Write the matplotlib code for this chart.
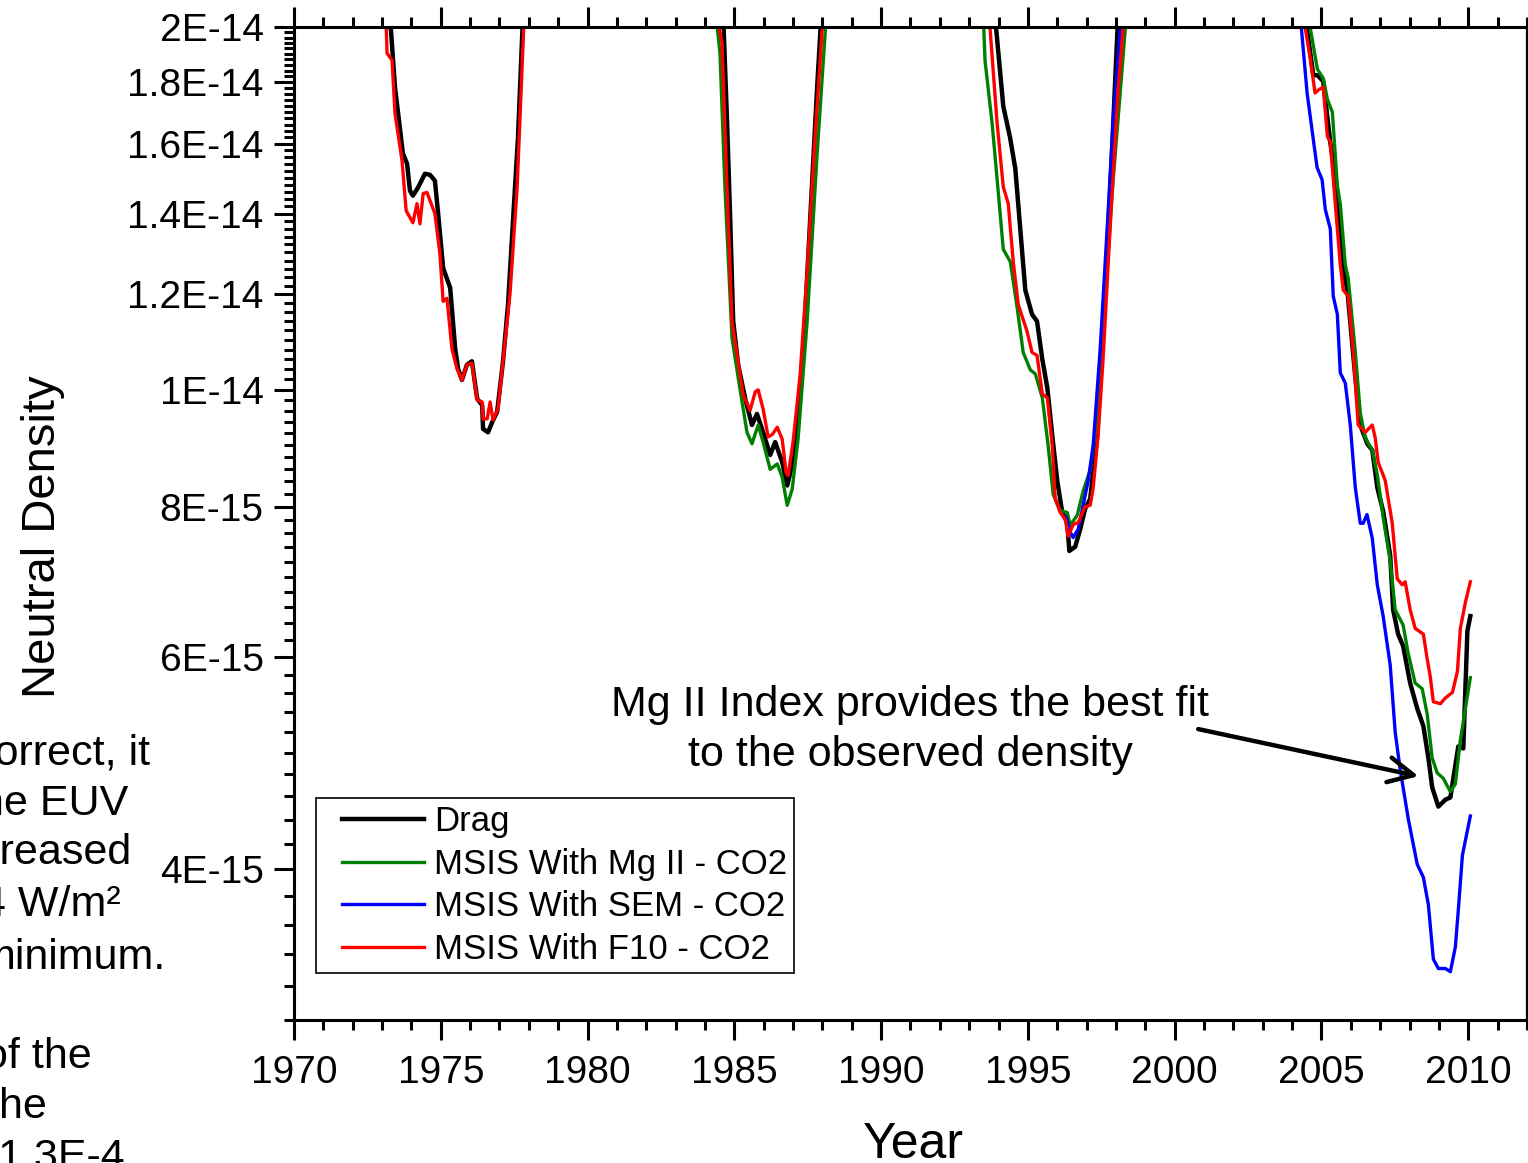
import numpy as np
import matplotlib
matplotlib.use("Agg")
import matplotlib.pyplot as plt
from matplotlib.lines import Line2D
from matplotlib.legend_handler import HandlerLine2D
from matplotlib.ticker import FixedLocator, MultipleLocator, NullFormatter

nan = np.nan

# neutral density in units of 1E-15, NaN splits the four solar minima
drag_year = [1973.27, 1973.44, 1973.71, 1973.85, 1973.95, 1974.05, 1974.22, 1974.46, 1974.63, 1974.80,
             1974.91, 1975.08, 1975.32, 1975.49, 1975.59, 1975.72, 1975.89, 1976.06, 1976.24, 1976.41,
             1976.44, 1976.61, 1976.75, 1976.92, 1977.12, 1977.29, 1977.46, 1977.63, 1977.80, nan,
             1984.62, 1984.75, 1984.86, 1984.96, 1985.13, 1985.37, 1985.60, 1985.77, 1985.98, 1986.22,
             1986.39, 1986.63, 1986.80, 1986.97, 1987.14, 1987.34, 1987.58, 1987.82, 1987.96, nan,
             1993.88, 1994.16, 1994.39, 1994.57, 1994.91, 1995.14, 1995.31, 1995.49, 1995.66, 1995.83,
             1996.00, 1996.17, 1996.34, 1996.41, 1996.61, 1996.78, 1996.95, 1997.12, 1997.36, 1997.56,
             1997.80, 1998.07, nan,
             2004.45, 2004.72, 2004.86, 2005.06, 2005.30, 2005.54, 2005.71, 2005.88, 2006.15, 2006.32,
             2006.56, 2006.73, 2006.90, 2007.10, 2007.34, 2007.44, 2007.61, 2007.78, 2008.02, 2008.26,
             2008.47, 2008.64, 2008.77, 2008.98, 2009.22, 2009.39, 2009.66, 2009.83, 2009.97, 2010.07]
drag_dens = [20.4, 17.83, 15.70, 15.41, 14.63, 14.49, 14.71, 15.11, 15.08, 14.91,
             14.00, 12.62, 12.15, 10.82, 10.41, 10.19, 10.49, 10.56, 9.83, 9.71,
             9.28, 9.22, 9.40, 9.59, 10.56, 11.77, 13.81, 16.20, 20.4, nan,
             20.4, 16.73, 13.81, 11.40, 10.49, 9.83, 9.35, 9.55, 9.22, 8.83,
             9.05, 8.71, 8.33, 8.66, 9.40, 10.70, 13.81, 17.83, 20.4, nan,
             20.4, 17.19, 16.20, 15.26, 12.10, 11.55, 11.40, 10.60, 10.04, 9.16,
             8.40, 7.91, 7.76, 7.35, 7.41, 7.66, 7.97, 8.12, 9.16, 11.18,
             14.58, 20.4, nan,
             20.4, 18.24, 18.24, 18.03, 16.04, 14.60, 12.70, 12.10, 10.25, 9.35,
             9.02, 8.91, 8.30, 7.93, 7.29, 6.57, 6.27, 6.13, 5.71, 5.44,
             5.26, 4.95, 4.68, 4.51, 4.57, 4.59, 5.06, 5.04, 6.31, 6.49]

mgii_year = [1984.38, 1984.51, 1984.68, 1984.92, 1985.19, 1985.43, 1985.60, 1985.81, 1985.98, 1986.22,
             1986.46, 1986.63, 1986.80, 1986.97, 1987.17, 1987.48, 1987.82, 1988.13, nan,
             1993.48, 1993.54, 1993.78, 1993.99, 1994.16, 1994.40, 1994.63, 1994.84, 1995.08, 1995.25,
             1995.49, 1995.69, 1995.86, 1996.10, 1996.34, 1996.44, 1996.68, 1996.88, 1997.12, 1997.36,
             1997.56, 1997.87, 1998.35, nan,
             2004.55, 2004.86, 2005.06, 2005.20, 2005.37, 2005.54, 2005.64, 2005.81, 2005.91, 2006.15,
             2006.32, 2006.49, 2006.73, 2006.90, 2007.10, 2007.34, 2007.51, 2007.78, 2007.95, 2008.19,
             2008.43, 2008.60, 2008.77, 2008.94, 2009.15, 2009.39, 2009.56, 2009.73, 2010.07]
mgii_dens = [20.4, 19.02, 14.71, 11.04, 10.02, 9.22, 9.02, 9.35, 9.05, 8.59,
             8.68, 8.46, 8.02, 8.27, 9.10, 11.40, 15.70, 20.4, nan,
             20.4, 18.74, 16.64, 14.58, 13.08, 12.77, 11.71, 10.74, 10.39, 10.31,
             9.85, 8.98, 8.19, 7.94, 7.91, 7.72, 7.87, 8.24, 8.58, 9.46,
             11.18, 14.58, 20.4, nan,
             20.4, 18.45, 18.13, 17.42, 17.00, 14.77, 14.27, 12.70, 12.38, 10.76,
             9.57, 9.12, 8.91, 8.51, 7.84, 7.21, 6.57, 6.38, 6.05, 5.71,
             5.65, 5.38, 4.95, 4.81, 4.76, 4.64, 4.71, 5.12, 5.77]

sem_year = [1996.30, 1996.44, 1996.54, 1996.71, 1996.88, 1997.05, 1997.22, 1997.46, 1997.70, 1997.90,
            1998.18, nan,
            2004.28, 2004.51, 2004.68, 2004.85, 2005.02, 2005.13, 2005.30, 2005.40, 2005.54, 2005.64,
            2005.81, 2005.98, 2006.15, 2006.32, 2006.42, 2006.55, 2006.73, 2006.90, 2007.10, 2007.34,
            2007.51, 2007.68, 2007.96, 2008.26, 2008.47, 2008.64, 2008.81, 2008.98, 2009.22, 2009.39,
            2009.56, 2009.66, 2009.80, 2010.07]
sem_dens = [7.84, 7.62, 7.54, 7.66, 8.02, 8.40, 8.98, 10.80, 13.63, 16.64,
            20.4, nan,
            20.4, 17.63, 16.41, 15.29, 14.94, 14.11, 13.60, 11.96, 11.55, 10.33,
            10.13, 9.35, 8.30, 7.75, 7.75, 7.88, 7.53, 6.89, 6.49, 5.91,
            5.20, 4.84, 4.40, 4.04, 3.94, 3.74, 3.37, 3.31, 3.31, 3.29,
            3.45, 3.70, 4.11, 4.43]

f10_year = [1973.13, 1973.17, 1973.34, 1973.44, 1973.68, 1973.82, 1974.05, 1974.19, 1974.29, 1974.40,
            1974.53, 1974.80, 1974.97, 1975.08, 1975.21, 1975.38, 1975.55, 1975.72, 1975.89, 1976.06,
            1976.24, 1976.41, 1976.44, 1976.58, 1976.68, 1976.78, 1976.95, 1977.12, 1977.36, 1977.60,
            1977.84, nan,
            1984.41, 1984.58, 1984.75, 1984.92, 1985.09, 1985.30, 1985.54, 1985.71, 1985.81, 1985.98,
            1986.15, 1986.29, 1986.46, 1986.63, 1986.76, 1986.83, 1987.00, 1987.24, 1987.48, 1987.75,
            1988.02, nan,
            1993.68, 1993.95, 1994.16, 1994.33, 1994.50, 1994.67, 1994.97, 1995.14, 1995.31, 1995.49,
            1995.66, 1995.83, 1995.93, 1996.10, 1996.27, 1996.37, 1996.54, 1996.71, 1996.95, 1997.12,
            1997.22, 1997.39, 1997.56, 1997.80, 1998.07, 1998.28, nan,
            2004.38, 2004.61, 2004.78, 2004.89, 2005.06, 2005.20, 2005.30, 2005.47, 2005.64, 2005.74,
            2005.91, 2006.08, 2006.25, 2006.49, 2006.73, 2006.83, 2006.93, 2007.17, 2007.41, 2007.58,
            2007.75, 2007.85, 2008.02, 2008.19, 2008.47, 2008.60, 2008.71, 2008.81, 2009.05, 2009.22,
            2009.46, 2009.63, 2009.73, 2009.90, 2010.07]
f10_dens = [20.4, 19.02, 18.77, 16.96, 15.49, 14.08, 13.76, 14.27, 13.73, 14.55,
            14.58, 14.00, 12.96, 11.84, 11.91, 10.82, 10.41, 10.19, 10.49, 10.52,
            9.81, 9.77, 9.46, 9.46, 9.77, 9.44, 9.64, 10.56, 12.03, 14.71,
            20.4, nan,
            20.4, 19.39, 14.71, 11.40, 10.70, 9.90, 9.62, 9.96, 10.00, 9.64,
            9.14, 9.18, 9.31, 9.10, 8.54, 8.49, 9.05, 10.29, 12.55, 16.20,
            20.4, nan,
            20.4, 16.64, 14.74, 14.27, 12.77, 11.77, 11.18, 10.74, 10.68, 9.92,
            9.85, 8.98, 8.12, 7.91, 7.81, 7.56, 7.73, 7.76, 8.00, 8.02,
            8.28, 9.16, 10.60, 13.63, 17.72, 20.4, nan,
            20.4, 18.88, 17.63, 17.73, 17.83, 16.23, 16.04, 14.27, 12.70, 12.10,
            11.96, 10.76, 9.35, 9.22, 9.35, 9.12, 8.71, 8.41, 7.75, 6.97,
            6.89, 6.93, 6.57, 6.34, 6.27, 5.98, 5.77, 5.51, 5.49, 5.55,
            5.61, 5.84, 6.34, 6.66, 6.93]

y_major = [4, 6, 8, 10, 12, 14, 16, 18, 20]
y_labels = ["4E-15", "6E-15", "8E-15", "1E-14", "1.2E-14", "1.4E-14", "1.6E-14", "1.8E-14", "2E-14"]

# cut-off text from the slide next to the chart
side_text = ["correct, it", "the EUV", "creased", "4 W/m\u00b2", "minimum.", "of the", "the", "(1.3E-4"]
side_right = [150, 128, 131, 121, 165, 92, 47, 125]
side_base = [765, 815, 864, 916, 969, 1068, 1118, 1169]

plt.rcParams["font.family"] = ["Liberation Sans", "DejaVu Sans"]

W, H = 1528, 1163
fig = plt.figure(figsize=(W / 100, H / 100), dpi=100)
ax = fig.add_axes([294 / W, (H - 1020) / H, 1233 / W, 993 / H])

ax.plot(drag_year, np.array(drag_dens) * 1e-15, color="black", lw=3.2, label="Drag")
ax.plot(mgii_year, np.array(mgii_dens) * 1e-15, color="#008000", lw=2.4, label="MSIS With Mg II - CO2")
ax.plot(sem_year, np.array(sem_dens) * 1e-15, color="#0000ff", lw=2.4, label="MSIS With SEM - CO2")
ax.plot(f10_year, np.array(f10_dens) * 1e-15, color="#ff0000", lw=2.4, label="MSIS With F10 - CO2")

ax.set_yscale("log")
ax.set_xlim(1970, 2012)
ax.set_ylim(3e-15, 2e-14)

ax.yaxis.set_major_locator(FixedLocator([v * 1e-15 for v in y_major]))
ax.set_yticklabels(y_labels)
ax.yaxis.set_minor_locator(FixedLocator(np.arange(3.0, 20.01, 0.2) * 1e-15))
ax.yaxis.set_minor_formatter(NullFormatter())
ax.xaxis.set_major_locator(MultipleLocator(5))
ax.xaxis.set_minor_locator(MultipleLocator(1))

ax.tick_params(axis="both", which="major", direction="out", length=14.4, width=2.2, labelsize=28)
ax.tick_params(axis="both", which="minor", direction="out", length=7.2, width=2.2)
ax.tick_params(axis="x", top=True, pad=10.5)
ax.tick_params(axis="x", which="minor", top=True)
ax.tick_params(axis="y", right=False, pad=7.5)
for side in ["left", "bottom", "top"]:
    ax.spines[side].set_linewidth(2.2)
ax.spines["right"].set_linewidth(1.6)

ax.set_xlabel("Year", fontsize=36)
ax.xaxis.set_label_coords((913 - 294) / 1233, (1020 - 1122) / 993)
ax.set_ylabel("Neutral Density", fontsize=34)
ax.yaxis.set_label_coords((65 - 294) / 1233, (1020 - 537) / 993)

leg = ax.legend(loc="upper left", bbox_to_anchor=((316 - 294) / 1233, (1020 - 798) / 993),
                borderaxespad=0, fontsize=25, frameon=True, fancybox=False, framealpha=1,
                edgecolor="black", borderpad=0.2, labelspacing=0.28, handlelength=2.9,
                handletextpad=0.29, handler_map={Line2D: HandlerLine2D(xpad=0.55)})
leg.get_frame().set_linewidth(1.2)

# annotation
ax.text((910 - 294) / 1233, (1020 - 716) / 993, "Mg II Index provides the best fit",
        transform=ax.transAxes, ha="center", va="baseline", fontsize=31)
ax.text((910 - 294) / 1233, (1020 - 766) / 993, "to the observed density",
        transform=ax.transAxes, ha="center", va="baseline", fontsize=31)
ax.annotate("", xy=(2008.30, 4.78e-15), xytext=(2000.80, 5.23e-15),
            arrowprops=dict(arrowstyle="->,head_length=0.6,head_width=0.3", lw=3.2,
                            color="black", shrinkA=0, shrinkB=0, mutation_scale=30))

for txt, xr, yb in zip(side_text, side_right, side_base):
    fig.text(xr / W, (H - yb) / H, txt, ha="right", va="baseline", fontsize=31)

fig.savefig("out.png", dpi=100)
